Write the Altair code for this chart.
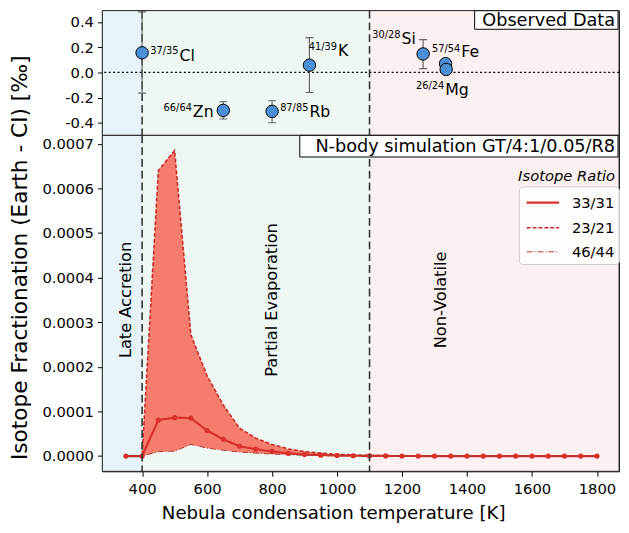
import altair as alt
import pandas as pd

# ---------------- data ----------------
T = [350, 400, 450, 500, 550, 600, 650, 700, 750, 800, 850, 900, 950, 1000,
     1050, 1100, 1150, 1200, 1250, 1300, 1350, 1400, 1450, 1500, 1550, 1600,
     1650, 1700, 1750, 1800]
R33_31 = [0.0, 0.0, 0.0000808, 0.0000860, 0.0000852, 0.0000572, 0.0000374,
          0.0000220, 0.0000154, 0.0000103, 0.0000060, 0.0000035, 0.0000020,
          0.0000012, 0.0000007, 0.0000004, 0.0000002, 0.0000001, 0.0, 0.0,
          0.0, 0.0, 0.0, 0.0, 0.0, 0.0, 0.0, 0.0, 0.0, 0.0]
R23_21 = [0.0, 0.0, 0.000640, 0.000685, 0.000272, 0.000180, 0.000114,
          0.0000625, 0.0000400, 0.0000257, 0.0000160, 0.0000100, 0.0000065,
          0.0000040, 0.0000025, 0.0000015, 0.0000010, 0.0000006, 0.0000003,
          0.0000002, 0.0, 0.0, 0.0, 0.0, 0.0, 0.0, 0.0, 0.0, 0.0, 0.0]
R46_44 = [0.0, 0.0, 0.0000097, 0.0000110, 0.0000260, 0.0000180, 0.0000130,
          0.0000090, 0.0000065, 0.0000045, 0.0000030, 0.0000020, 0.0000015,
          0.0000010, 0.0000005, 0.0000003, 0.0000002, 0.0, 0.0, 0.0, 0.0,
          0.0, 0.0, 0.0, 0.0, 0.0, 0.0, 0.0, 0.0, 0.0]
SERIES = ["33/31", "23/21", "46/44"]

ELEMENTS = ["Cl", "Zn", "Rb", "K", "Si", "Fe", "Mg"]
ISOTOPES = ["37/35", "66/64", "87/85", "41/39", "30/28", "57/54", "26/24"]
TC = [400, 650, 800, 915, 1265, 1334, 1336]
DELTA = [0.155, -0.302, -0.310, 0.057, 0.146, 0.069, 0.023]
ERR_LO = [-0.165, -0.370, -0.400, -0.160, 0.030, 0.050, 0.005]
ERR_HI = [0.480, -0.233, -0.225, 0.275, 0.260, 0.090, 0.045]

REGIONS = ["Late Accretion", "Partial Evaporation", "Non-Volatile"]
REGION_START = [277.5, 400, 1100]
REGION_END = [400, 1100, 1868]
REGION_LABEL_T = [350, 800, 1320]
REGION_LABEL_Y = [0.00035, 0.00035, 0.00035]
BOUNDARIES = [400, 1100]

X_TICKS = [400, 600, 800, 1000, 1200, 1400, 1600, 1800]
Y_TOP_TICKS = [-0.4, -0.2, 0.0, 0.2, 0.4]
Y_BOT_TICKS = [0.0, 0.0001, 0.0002, 0.0003, 0.0004, 0.0005, 0.0006, 0.0007]

# ---------------- style ----------------
FONT = "DejaVu Sans"
W = 526
H_TOP = 127
H_BOT = 342
BG_COLORS = ["#e6f4fa", "#eff7f2", "#fdf0f1"]
LINE_COLORS = ["#d8302c", "#c62a26", "#a83c36"]
LINE_DASH = [[1, 0], [4, 2], [6, 2, 1, 2]]
LINE_WIDTH = [2.2, 1.0, 1.0]
FILL_COLOR = "#f67d6e"
POINT_COLOR = "#4d8fd6"
# (split dx, superscript dy, element dy)
LABEL_STYLE = {
    "Cl": (37, -2, 3.5),
    "Zn": (-32, -2, 2),
    "Rb": (37, -3, 1),
    "K": (28, -18, -14),
    "Si": (-23, -19, -15.5),
    "Fe": (15, -15, -11.5),
    "Mg": (-2, 17, 20.5),
}

xscale = alt.Scale(domain=[277.5, 1868], nice=False, zero=False)

regions_df = pd.DataFrame({"name": REGIONS, "start": REGION_START, "end": REGION_END,
                           "lt": REGION_LABEL_T, "ly": REGION_LABEL_Y})
bound_df = pd.DataFrame({"T": BOUNDARIES})
obs_df = pd.DataFrame({"T": TC, "d": DELTA, "lo": ERR_LO, "hi": ERR_HI,
                       "el": ELEMENTS, "iso": ISOTOPES})
long_df = pd.DataFrame({
    "T": T * 3,
    "v": R33_31 + R23_21 + R46_44,
    "series": [SERIES[0]] * len(T) + [SERIES[1]] * len(T) + [SERIES[2]] * len(T),
})
env_df = pd.DataFrame({"T": T, "lo": R46_44, "hi": R23_21})
main_df = pd.DataFrame({"T": T, "v": R33_31})

fill_scale = alt.Scale(domain=REGIONS, range=BG_COLORS)
one_df = pd.DataFrame({"k": [0]})


def frame(h):
    return alt.Chart(one_df).mark_rect(fill="transparent", stroke="#222",
                                       strokeWidth=1).encode(
        x=alt.value(0), x2=alt.value(W), y=alt.value(0), y2=alt.value(h))


# ---------------- top panel ----------------
ytop = alt.Scale(domain=[-0.50, 0.49], nice=False, zero=False)
ytop_axis = alt.Axis(values=Y_TOP_TICKS, format=".1f", title=None,
                     labelOverlap=False, labelFontSize=15,
                     labelExpr="replace(datum.label, '\u2212', '-')")
xnone = dict(scale=xscale, axis=None)

top_bg = alt.Chart(regions_df).mark_rect(clip=True).encode(
    x=alt.X("start:Q", **xnone),
    x2="end:Q",
    fill=alt.Fill("name:N", scale=fill_scale, legend=None),
)
zero_line = alt.Chart(pd.DataFrame({"v": [0.0]})).mark_rule(
    color="black", strokeDash=[2, 2.5], strokeWidth=1.3).encode(
    y=alt.Y("v:Q", scale=ytop, axis=ytop_axis))
top_bounds = alt.Chart(bound_df).mark_rule(
    color="#333", strokeDash=[8, 4], strokeWidth=1.6).encode(
    x=alt.X("T:Q", **xnone))
err_rule = alt.Chart(obs_df).mark_rule(color="#666", strokeWidth=1.2, clip=True).encode(
    x=alt.X("T:Q", **xnone),
    y=alt.Y("lo:Q", scale=ytop, axis=ytop_axis), y2="hi:Q")
cap_lo = alt.Chart(obs_df).mark_point(shape="stroke", size=64, color="#666",
                                      strokeWidth=1.2, opacity=1, clip=True).encode(
    x=alt.X("T:Q", **xnone), y=alt.Y("lo:Q", scale=ytop, axis=ytop_axis))
cap_hi = alt.Chart(obs_df).mark_point(shape="stroke", size=64, color="#666",
                                      strokeWidth=1.2, opacity=1, clip=True).encode(
    x=alt.X("T:Q", **xnone), y=alt.Y("hi:Q", scale=ytop, axis=ytop_axis))
pts = alt.Chart(obs_df).mark_circle(size=160, color=POINT_COLOR, stroke="black",
                                    strokeWidth=1, opacity=1).encode(
    x=alt.X("T:Q", **xnone), y=alt.Y("d:Q", scale=ytop, axis=ytop_axis))

label_layers = []
for el in ELEMENTS:
    split, sdy, edy = LABEL_STYLE[el]
    base = alt.Chart(obs_df).transform_filter(alt.datum.el == el)
    label_layers.append(base.mark_text(
        align="right", baseline="middle", dx=split, dy=sdy, fontSize=10,
        font=FONT, color="black").encode(
        x=alt.X("T:Q", **xnone), y=alt.Y("d:Q", scale=ytop, axis=ytop_axis),
        text="iso:N"))
    label_layers.append(base.mark_text(
        align="left", baseline="middle", dx=split + 1, dy=edy, fontSize=16,
        font=FONT, color="black").encode(
        x=alt.X("T:Q", **xnone), y=alt.Y("d:Q", scale=ytop, axis=ytop_axis),
        text="el:N"))

obs_box_df = pd.DataFrame({"t": ["Observed Data"]})
obs_box = alt.Chart(obs_box_df).mark_rect(fill="white", stroke="black",
                                          strokeWidth=1).encode(
    x=alt.value(W - 147), x2=alt.value(W - 1), y=alt.value(0), y2=alt.value(19))
obs_text = alt.Chart(obs_box_df).mark_text(
    align="right", baseline="middle", fontSize=18, font=FONT, color="black").encode(
    x=alt.value(W - 4), y=alt.value(10.5), text="t:N")

top = alt.layer(top_bg, zero_line, top_bounds, err_rule, cap_lo, cap_hi, pts,
                *label_layers, obs_box, obs_text, frame(H_TOP)
                ).properties(width=W, height=H_TOP)

# ---------------- bottom panel ----------------
ybot = alt.Scale(domain=[-0.0000343, 0.000719], nice=False, zero=False)
xaxis = alt.Axis(values=X_TICKS, format="d", title="Nebula condensation temperature [K]",
                 labelFontSize=15, titleFontSize=18.5, titlePadding=7, labelPadding=6,
                 titleX=235, grid=False)
yaxis = alt.Axis(values=Y_BOT_TICKS, format=".4f",
                 title="Isotope Fractionation (Earth - CI) [‰]", labelFontSize=15,
                 titleFontSize=22, titleX=-84, titleY=124, titleAngle=270,
                 titleBaseline="middle", titleAlign="center", grid=False)

bot_bg = alt.Chart(regions_df).mark_rect(clip=True).encode(
    x=alt.X("start:Q", scale=xscale, axis=xaxis),
    x2="end:Q",
    fill=alt.Fill("name:N", scale=fill_scale, legend=None),
)
area = alt.Chart(env_df).mark_area(color=FILL_COLOR, opacity=1).encode(
    x=alt.X("T:Q", scale=xscale, axis=xaxis),
    y=alt.Y("lo:Q", scale=ybot, axis=yaxis), y2="hi:Q")

leg = alt.Legend(orient="none", legendX=424, legendY=179, title=None,
                 symbolType="M-1.5,0H1.5", symbolSize=484, symbolOffset=8,
                 labelFontSize=15, labelFont=FONT, labelColor="black",
                 labelOffset=17, rowPadding=5, padding=4,
                 fillColor="rgba(255,255,255,0.8)",
                 strokeColor="#cccccc", cornerRadius=4)
lines = alt.Chart(long_df).mark_line().encode(
    x=alt.X("T:Q", scale=xscale, axis=xaxis),
    y=alt.Y("v:Q", scale=ybot, axis=yaxis),
    stroke=alt.Stroke("series:N", scale=alt.Scale(domain=SERIES, range=LINE_COLORS), legend=leg),
    strokeDash=alt.StrokeDash("series:N", scale=alt.Scale(domain=SERIES, range=LINE_DASH), legend=leg),
    strokeWidth=alt.StrokeWidth("series:N", scale=alt.Scale(domain=SERIES, range=LINE_WIDTH), legend=leg),
    order=alt.Order("T:Q"),
)
main_pts = alt.Chart(main_df).mark_circle(size=28, color=LINE_COLORS[0], opacity=1).encode(
    x=alt.X("T:Q", scale=xscale, axis=xaxis), y=alt.Y("v:Q", scale=ybot, axis=yaxis))
bot_bounds = alt.Chart(bound_df).mark_rule(
    color="#333", strokeDash=[8, 4], strokeWidth=1.6).encode(
    x=alt.X("T:Q", scale=xscale, axis=xaxis))
region_text = alt.Chart(regions_df).mark_text(
    angle=270, align="center", baseline="middle", fontSize=16.5, font=FONT,
    color="black").encode(
    x=alt.X("lt:Q", scale=xscale, axis=xaxis), y=alt.Y("ly:Q", scale=ybot, axis=yaxis),
    text="name:N")
nb_df = pd.DataFrame({"t": ["N-body simulation GT/4:1/0.05/R8"]})
nb_box = alt.Chart(nb_df).mark_rect(fill="white", stroke="black", strokeWidth=1).encode(
    x=alt.value(W - 325), x2=alt.value(W - 1), y=alt.value(0), y2=alt.value(22))
nb_text = alt.Chart(nb_df).mark_text(
    align="right", baseline="middle", fontSize=18, font=FONT, color="black").encode(
    x=alt.value(W - 4), y=alt.value(11.5), text="t:N")
leg_title = alt.Chart(pd.DataFrame({"t": ["Isotope Ratio"]})).mark_text(
    align="right", baseline="middle", fontSize=15, font=FONT, fontStyle="italic",
    color="black").encode(x=alt.value(W - 4), y=alt.value(41), text="t:N")

bottom = alt.layer(bot_bg, area, lines, main_pts, bot_bounds, region_text,
                   nb_box, nb_text, leg_title, frame(H_BOT)
                   ).properties(width=W, height=H_BOT)

chart = alt.vconcat(top, bottom, spacing=0, bounds="flush").resolve_scale(
    y="independent", x="independent"
).properties(
    padding={"left": 0, "right": 0, "top": -4, "bottom": 0}
).configure_view(
    stroke="#222", strokeWidth=1
).configure_axis(
    labelFont=FONT, titleFont=FONT, labelFontSize=15, labelColor="black",
    titleColor="black", titleFontWeight="normal", tickColor="black",
    tickSize=5, domain=False, grid=False, labelPadding=4
)

chart.save("out.html", embed_options={"renderer": "svg", "actions": False})
